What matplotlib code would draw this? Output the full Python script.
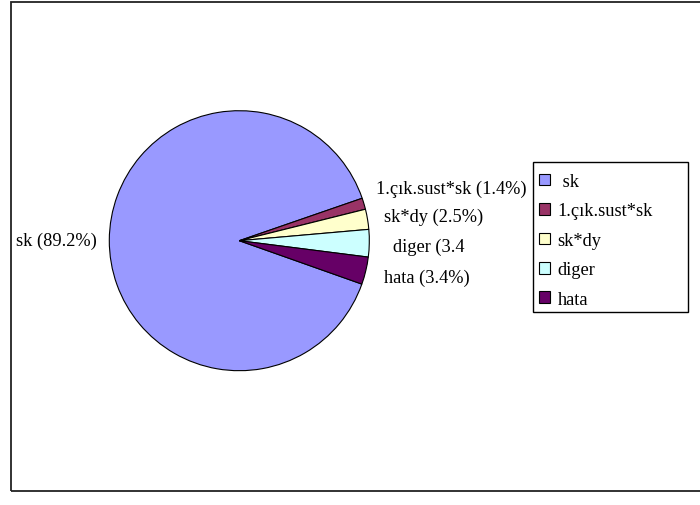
import matplotlib
matplotlib.use("Agg")
import matplotlib.pyplot as plt
from matplotlib.patches import Rectangle, Patch

plt.rcParams['font.family'] = ['Liberation Serif', 'DejaVu Serif']

# data
categories = ['sk', '1.çık.sust*sk', 'sk*dy', 'diger', 'hata']
legend_labels = [' sk', '1.çık.sust*sk', 'sk*dy', 'diger', 'hata']
shares = [89.2, 1.4, 2.5, 3.4, 3.4]
slice_labels = ['sk (89.2%)', '1.çık.sust*sk (1.4%)', 'sk*dy (2.5%)', 'diger (3.4', 'hata (3.4%)']
colors = ['#9999FF', '#993366', '#FFFFCC', '#CCFFFF', '#660066']

W, H = 700, 506
fig = plt.figure(figsize=(W / 100, H / 100), dpi=100)

# outer frame, right side runs off the picture
fig.patches.append(Rectangle((11 / W, 1 - 492 / H), 1.0, (492 - 3) / H,
                             transform=fig.transFigure, fill=False,
                             edgecolor='#222222', linewidth=1.3))

# pie: centre ~ (239, 242) px, radius 130 px
cx, cy, r = 239.3, 241.7, 130
ax = fig.add_axes([(cx - r) / W, 1 - (cy + r) / H, 2 * r / W, 2 * r / H])
wedges, _ = ax.pie(shares, colors=colors, startangle=-19.5, counterclock=False,
                   radius=1, wedgeprops=dict(edgecolor='black', linewidth=0.8))
ax.set_xlim(-1, 1)
ax.set_ylim(-1, 1)
ax.set_aspect('equal')
ax.axis('off')

# label placement (pie units), Excel-like outside labels
label_pos = [(-1.095, 0.0, 'right'), (1.052, 0.40, 'left'), (1.113, 0.19, 'left'),
             (1.18, -0.04, 'left'), (1.113, -0.285, 'left')]
for txt, (lx, ly, ha) in zip(slice_labels, label_pos):
    ax.text(lx, ly, txt, ha=ha, va='center', fontsize=13.2, color='black')

# legend with its own box
fig.patches.append(Rectangle((533 / W, 1 - 313 / H), (688 - 533) / W, (313 - 163) / H,
                             transform=fig.transFigure, fill=False,
                             edgecolor='black', linewidth=1.0))
handles = [Patch(facecolor=c, edgecolor='black', linewidth=0.8) for c in colors]
fig.legend(handles, legend_labels, loc='upper left', bbox_to_anchor=(539 / W, 1 - 174 / H),
           frameon=False, fontsize=13.2, handlelength=0.62, handleheight=0.62,
           handletextpad=0.4, labelspacing=0.68, borderpad=0.0, borderaxespad=0.0)

fig.savefig('out.png', dpi=100)
